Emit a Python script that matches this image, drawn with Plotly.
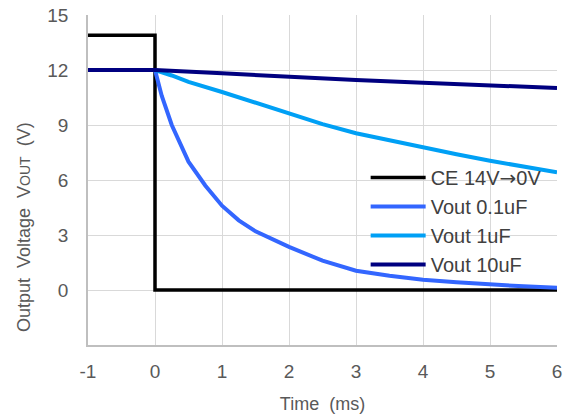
import plotly.graph_objects as go

# Data
ce_t = [-1, 0, 0, 6]
ce_v = [13.9, 13.9, 0, 0]

t_01 = [-1, 0, 0.1, 0.25, 0.5, 0.75, 1, 1.25, 1.5, 1.75, 2, 2.5, 3, 3.5, 4, 4.5, 5, 5.5, 6]
v_01 = [12, 12, 10.6, 9.0, 7.0, 5.7, 4.6, 3.8, 3.2, 2.75, 2.35, 1.6, 1.05, 0.78, 0.56, 0.42, 0.29, 0.2, 0.12]

t_1 = [-1, 0, 0.25, 0.5, 1, 1.5, 2, 2.5, 3, 3.5, 4, 4.5, 5, 5.5, 6]
v_1 = [12, 12, 11.7, 11.35, 10.8, 10.2, 9.6, 9.05, 8.55, 8.15, 7.8, 7.4, 7.05, 6.75, 6.42]

t_10 = [-1, 0, 1, 2, 3, 4, 5, 6]
v_10 = [12, 12, 11.82, 11.62, 11.45, 11.3, 11.17, 11.02]

names = ["CE 14V<span style='font-family:DejaVu Sans'>→</span>0V", "Vout 0.1uF", "Vout 1uF", "Vout 10uF"]
colors = ["#000000", "#3366ff", "#00a0f5", "#000080"]
widths = [3.5, 4, 4, 4]

x_ticks = [-1, 0, 1, 2, 3, 4, 5, 6]
x_labels = ["-1", "0", "1", "2", "3", "4", "5", "6"]
y_ticks = [0, 3, 6, 9, 12, 15]

fig = go.Figure()
for i, (t, v) in enumerate([(ce_t, ce_v), (t_01, v_01), (t_1, v_1), (t_10, v_10)]):
    fig.add_trace(go.Scatter(x=t, y=v, mode="lines", name=names[i],
                             legendgroup=f"g{i}",
                             line=dict(color=colors[i], width=widths[i])))

font_fam = "Liberation Sans, Arial, sans-serif"
fig.update_layout(
    width=572, height=418,
    margin=dict(l=88, r=15, t=15, b=73),
    paper_bgcolor="white", plot_bgcolor="white",
    font=dict(family=font_fam, color="#595959", size=19),
    showlegend=True,
    legend=dict(x=0.592, y=0.567, xanchor="left", yanchor="top",
                bgcolor="rgba(0,0,0,0)", font=dict(size=20, color="#404040"),
                tracegroupgap=0, itemwidth=55),
    xaxis=dict(range=[-1, 6], tickvals=x_ticks, ticktext=x_labels, showgrid=True, gridcolor="#d9d9d9",
               gridwidth=1, showline=True, linecolor="#bfbfbf", linewidth=1.5,
               zeroline=False, ticks="", tickfont=dict(size=19, color="#595959"),
               automargin=False, ticklabelstandoff=8,
               title=dict(text="Time  (ms)", font=dict(size=18, color="#595959"), standoff=17)),
    yaxis=dict(range=[-3, 15], tickvals=y_ticks, showgrid=True, gridcolor="#d9d9d9",
               gridwidth=1, showline=True, linecolor="#bfbfbf", linewidth=1.5,
               zeroline=False, ticks="", tickfont=dict(size=19, color="#595959"),
               automargin=False, ticklabelstandoff=14, ticklabeloverflow="allow"),
)
fig.add_annotation(text="Output  Voltage  V<span style='font-size:14px'>OUT</span>  (V)",
                   xref="paper", yref="paper", x=-0.1375, y=0.356, textangle=-90,
                   showarrow=False, font=dict(size=18, color="#595959"),
                   xanchor="center", yanchor="middle")
fig.write_html("out.html", config={"displayModeBar": False},
               post_script="document.body.style.margin='0';")
